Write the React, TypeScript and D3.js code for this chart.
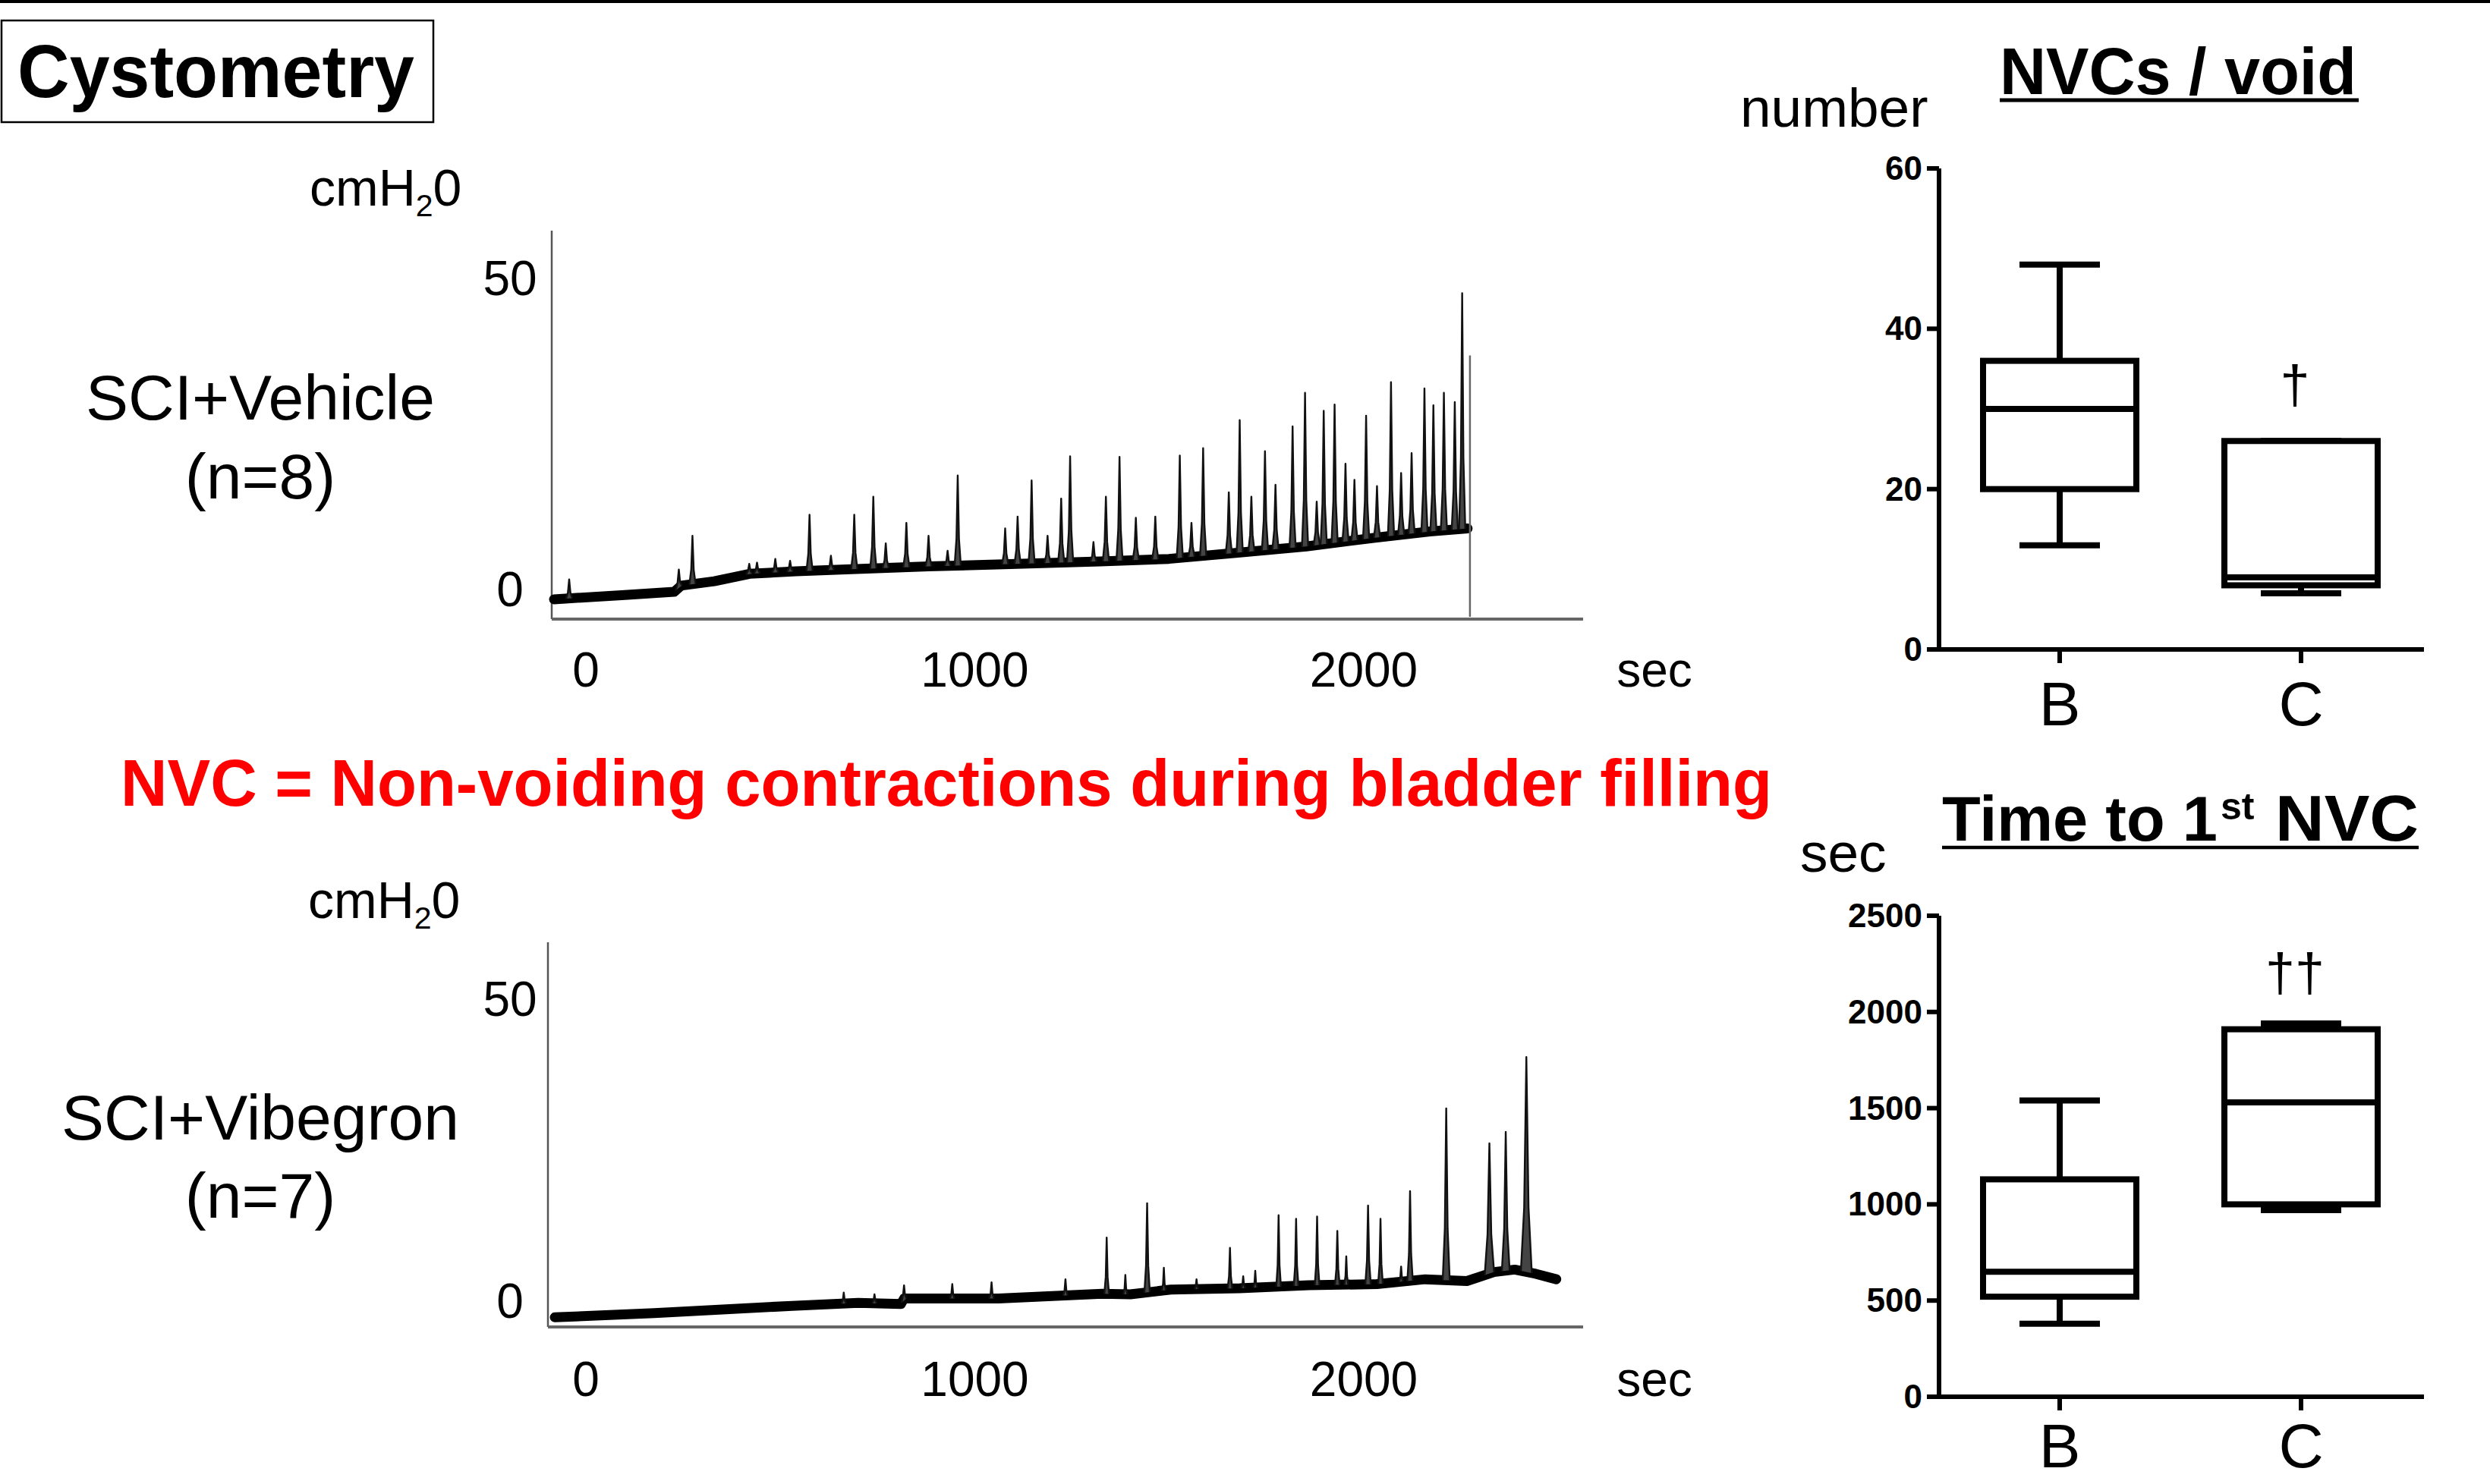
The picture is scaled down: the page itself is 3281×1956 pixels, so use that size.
import React from 'react';
import * as d3 from 'd3';

const FONT = "'Liberation Sans', Arial, Helvetica, sans-serif";

// ---------- trace data (time in sec, pressure in cmH2O) ----------
const traceTicksX = [0, 1000, 2000];
const traceTicksY = [0, 50];

const vehicleBaseline: [number, number][] = [
  [-82, -1.7], [100, -1.0], [227, -0.5], [245, 0.5], [330, 1.2], [421, 2.4], [540, 2.8],
  [669, 3.1], [881, 3.6], [1057, 3.9], [1322, 4.4], [1499, 4.8], [1676, 5.8], [1852, 6.8],
  [2029, 8.2], [2170, 9.2], [2267, 9.7],
];
const vehiclePeaks: [number, number][] = [
  [-43, 1.5], [239, 3.1], [274, 8.5], [420, 4.0], [440, 4.2], [487, 4.8], [525, 4.5], [575, 11.9],
  [630, 5.3], [690, 11.9], [739, 14.8], [771, 7.3], [824, 10.6], [881, 8.5], [930, 6.1], [956, 18.2],
  [1078, 9.7], [1110, 11.6], [1146, 17.4], [1187, 8.5], [1222, 14.5], [1245, 21.3], [1305, 7.5],
  [1337, 14.8], [1372, 21.2], [1414, 11.4], [1464, 11.6], [1527, 21.4], [1557, 10.6], [1587, 22.6],
  [1653, 15.5], [1681, 27.1], [1711, 14.8], [1746, 22.1], [1773, 16.7], [1817, 26.1], [1849, 31.5],
  [1879, 14.0], [1897, 28.6], [1925, 29.6], [1953, 20.1], [1976, 17.5], [2006, 27.8], [2034, 16.5],
  [2070, 33.2], [2096, 18.6], [2123, 21.8], [2156, 32.2], [2179, 29.5], [2206, 31.5], [2234, 30.0],
  [2253, 47.5],
];
const vehicleVoid: [number, number] = [2273, 37.5];

const vibegronBaseline: [number, number][] = [
  [-80, -2.8], [176, -2.1], [530, -0.9], [700, -0.4], [810, -0.6], [818, 0.3], [1061, 0.3],
  [1327, 1.1], [1400, 1.0], [1504, 1.8], [1681, 2.0], [1858, 2.5], [2034, 2.7], [2158, 3.5],
  [2265, 3.2], [2335, 4.7], [2388, 5.1], [2442, 4.4], [2495, 3.5],
];
// [time, peak pressure, half-duration]
const vibegronPeaks: [number, number, number][] = [
  [663, 1.3, 6], [742, 1.0, 6], [818, 2.5, 6], [942, 2.7, 6], [1043, 3.0, 6], [1233, 3.5, 6],
  [1339, 10.4, 6], [1387, 4.2, 5], [1443, 16.1, 7], [1486, 5.4, 5], [1570, 3.5, 5], [1656, 8.7, 6],
  [1690, 4.0, 5], [1721, 4.9, 5], [1781, 14.1, 6], [1826, 13.5, 6], [1880, 13.9, 6], [1932, 11.5, 6],
  [1955, 7.3, 5], [2011, 15.7, 7], [2043, 13.5, 6], [2096, 5.6, 5], [2119, 18.1, 7], [2212, 31.8, 9],
  [2323, 26.0, 12], [2365, 27.9, 10], [2418, 40.3, 14],
];
const VEHICLE_HALF_DURATION = 8;

// ---------- box plot data ----------
const boxCategories = ['B', 'C'];
const nvcMin = [13, 7];
const nvcQ1 = [20, 8];
const nvcMedian = [30, 9];
const nvcQ3 = [36, 26];
const nvcMax = [48, 26];
const nvcTicks = [0, 20, 40, 60];
const nvcMarks = ['', '†'];

const timeMin = [380, 970];
const timeQ1 = [520, 1000];
const timeMedian = [650, 1530];
const timeQ3 = [1130, 1910];
const timeMax = [1540, 1940];
const timeTicks = [0, 500, 1000, 1500, 2000, 2500];
const timeMarks = ['', '††'];

// ---------- scales ----------
const traceX = d3.scaleLinear().domain([0, 2000]).range([772, 1797]);
const vehicleY = d3.scaleLinear().domain([0, 50]).range([776, 366]);
const vibegronY = d3.scaleLinear().domain([0, 50]).range([1714, 1316]);
const boxX = d3.scalePoint<string>().domain(boxCategories).range([2555, 3191]).padding(0.5);
const nvcY = d3.scaleLinear().domain([0, 60]).range([856, 222]);
const timeY = d3.scaleLinear().domain([0, 2500]).range([1841, 1207]);

type Peak = [number, number, number?];

function Trace(props: {
  baseline: [number, number][];
  peaks: Peak[];
  halfDur: number;
  y: d3.ScaleLinear<number, number>;
  axisLeft: number;
  axisRight: number;
  axisTop: number;
  axisBottom: number;
  tickLabelX: number;
  xLabelBaseline: number;
  voidMark?: [number, number];
}) {
  const { baseline, peaks, halfDur, y, axisLeft, axisRight, axisTop, axisBottom, tickLabelX, xLabelBaseline, voidMark } = props;
  const base = d3
    .scaleLinear()
    .domain(baseline.map((d) => d[0]))
    .range(baseline.map((d) => d[1]))
    .clamp(true);
  const line = d3.line<[number, number]>().x((d) => traceX(d[0])).y((d) => y(d[1]));
  const basePath = line(baseline) || '';
  const spikes = peaks.map(([t, v, w0]) => {
    const w = w0 ?? halfDur;
    const b = base(t);
    const pts: [number, number][] = [
      [t - w, base(t - w)],
      [t - 0.4 * w, b + 0.3 * (v - b)],
      [t, v],
      [t + 0.4 * w, b + 0.3 * (v - b)],
      [t + w, base(t + w)],
    ];
    return line(pts) || '';
  });
  return (
    <g>
      <line x1={axisLeft} x2={axisLeft} y1={axisTop} y2={axisBottom} stroke="#555" strokeWidth={2.5} />
      <line x1={axisLeft} x2={axisRight} y1={axisBottom} y2={axisBottom} stroke="#666" strokeWidth={4} />
      <path d={basePath} fill="none" stroke="#000" strokeWidth={13} strokeLinejoin="round" strokeLinecap="round" />
      {spikes.map((d, i) => (
        <path key={i} d={d} fill="#444" stroke="#111" strokeWidth={2.4} strokeLinejoin="round" />
      ))}
      {voidMark && (
        <line
          x1={traceX(voidMark[0])}
          x2={traceX(voidMark[0])}
          y1={y(voidMark[1])}
          y2={axisBottom - 3}
          stroke="#666"
          strokeWidth={2.5}
        />
      )}
      {traceTicksY.map((v) => (
        <text key={v} x={tickLabelX} y={y(v) + 23} textAnchor="middle" fontSize={64} fontFamily={FONT}>
          {v}
        </text>
      ))}
      {traceTicksX.map((t) => (
        <text key={t} x={traceX(t)} y={xLabelBaseline} textAnchor="middle" fontSize={64} fontFamily={FONT}>
          {t}
        </text>
      ))}
      <text x={2180} y={xLabelBaseline} textAnchor="middle" fontSize={64} fontFamily={FONT}>
        sec
      </text>
    </g>
  );
}

function BoxPlot(props: {
  y: d3.ScaleLinear<number, number>;
  ticks: number[];
  mins: number[];
  q1s: number[];
  medians: number[];
  q3s: number[];
  maxs: number[];
  marks: string[];
  markY: number;
  labelBaseline: number;
}) {
  const { y, ticks, mins, q1s, medians, q3s, maxs, marks, markY, labelBaseline } = props;
  const x0 = 2555;
  const y0 = y(0);
  const yTop = y(ticks[ticks.length - 1]);
  const sw = 8;
  const halfBox = 101;
  const halfCap = 53;
  return (
    <g>
      <line x1={x0} x2={x0} y1={yTop} y2={y0 + 3} stroke="#000" strokeWidth={6} />
      <line x1={x0 - 3} x2={3194} y1={y0} y2={y0} stroke="#000" strokeWidth={6} />
      {ticks.map((t) => (
        <g key={t}>
          <line x1={x0 - 16} x2={x0} y1={y(t)} y2={y(t)} stroke="#000" strokeWidth={6} />
          <text x={2533} y={y(t) + 15} textAnchor="end" fontSize={44} fontWeight="bold" fontFamily={FONT}>
            {t}
          </text>
        </g>
      ))}
      {boxCategories.map((c, i) => {
        const cx = boxX(c) as number;
        return (
          <g key={c}>
            <line x1={cx} x2={cx} y1={y0} y2={y0 + 18} stroke="#000" strokeWidth={6} />
            <text x={cx} y={labelBaseline} textAnchor="middle" fontSize={82} fontFamily={FONT}>
              {c}
            </text>
            <line x1={cx} x2={cx} y1={y(maxs[i])} y2={y(q3s[i])} stroke="#000" strokeWidth={sw} />
            <line x1={cx} x2={cx} y1={y(q1s[i])} y2={y(mins[i])} stroke="#000" strokeWidth={sw} />
            <line x1={cx - halfCap} x2={cx + halfCap} y1={y(maxs[i])} y2={y(maxs[i])} stroke="#000" strokeWidth={sw} />
            <line x1={cx - halfCap} x2={cx + halfCap} y1={y(mins[i])} y2={y(mins[i])} stroke="#000" strokeWidth={sw} />
            <rect
              x={cx - halfBox}
              y={y(q3s[i])}
              width={halfBox * 2}
              height={y(q1s[i]) - y(q3s[i])}
              fill="#fff"
              stroke="#000"
              strokeWidth={sw}
            />
            <line x1={cx - halfBox} x2={cx + halfBox} y1={y(medians[i])} y2={y(medians[i])} stroke="#000" strokeWidth={sw} />
            {marks[i] && (
              <text x={cx - 8} y={markY} textAnchor="middle" fontSize={70} fontFamily={FONT}>
                {marks[i]}
              </text>
            )}
          </g>
        );
      })}
    </g>
  );
}

export default function App() {
  return (
    <svg
      width={3281}
      height={1956}
      viewBox="0 0 3281 1956"
      style={{ position: 'absolute', left: 0, top: 0, background: '#fff', display: 'block' }}
      fontFamily={FONT}
    >
      <rect x={0} y={0} width={3281} height={1956} fill="#fff" />
      <line x1={0} x2={3281} y1={2} y2={2} stroke="#000" strokeWidth={4} />

      {/* title box */}
      <rect x={2} y={27} width={569} height={134} fill="none" stroke="#000" strokeWidth={2.5} />
      <text x={23} y={128} fontSize={98} fontWeight="bold" textLength={523} lengthAdjust="spacingAndGlyphs">
        Cystometry
      </text>

      {/* group labels */}
      <text x={343} y={553} textAnchor="middle" fontSize={84}>SCI+Vehicle</text>
      <text x={343} y={657} textAnchor="middle" fontSize={84}>(n=8)</text>
      <text x={343} y={1502} textAnchor="middle" fontSize={84}>SCI+Vibegron</text>
      <text x={343} y={1605} textAnchor="middle" fontSize={84}>(n=7)</text>

      {/* unit labels */}
      <text x={408} y={271} fontSize={68}>
        cmH<tspan fontSize={41} dy={14}>2</tspan>
        <tspan dy={-14}>0</tspan>
      </text>
      <text x={406} y={1210} fontSize={68}>
        cmH<tspan fontSize={41} dy={14}>2</tspan>
        <tspan dy={-14}>0</tspan>
      </text>

      <Trace
        baseline={vehicleBaseline}
        peaks={vehiclePeaks}
        halfDur={VEHICLE_HALF_DURATION}
        y={vehicleY}
        axisLeft={727}
        axisRight={2086}
        axisTop={304}
        axisBottom={816}
        tickLabelX={672}
        xLabelBaseline={905}
        voidMark={vehicleVoid}
      />
      <Trace
        baseline={vibegronBaseline}
        peaks={vibegronPeaks}
        halfDur={6}
        y={vibegronY}
        axisLeft={722}
        axisRight={2086}
        axisTop={1242}
        axisBottom={1749}
        tickLabelX={672}
        xLabelBaseline={1840}
      />

      {/* red definition */}
      <text x={159} y={1062} fontSize={88} fontWeight="bold" fill="#ff0000" textLength={2176} lengthAdjust="spacingAndGlyphs">
        NVC = Non-voiding contractions during bladder filling
      </text>

      {/* NVCs / void */}
      <text x={2635} y={124} fontSize={87} fontWeight="bold" textLength={470} lengthAdjust="spacingAndGlyphs">
        NVCs / void
      </text>
      <line x1={2635} x2={3108} y1={132} y2={132} stroke="#000" strokeWidth={5} />
      <text x={2293} y={167} fontSize={73}>number</text>
      <BoxPlot
        y={nvcY}
        ticks={nvcTicks}
        mins={nvcMin}
        q1s={nvcQ1}
        medians={nvcMedian}
        q3s={nvcQ3}
        maxs={nvcMax}
        marks={nvcMarks}
        markY={531}
        labelBaseline={956}
      />

      {/* Time to 1st NVC */}
      <text x={2559} y={1108} fontSize={83} fontWeight="bold">Time to 1</text>
      <text x={2926} y={1080} fontSize={50} fontWeight="bold">st</text>
      <text x={2998} y={1108} fontSize={85} fontWeight="bold" textLength={189} lengthAdjust="spacingAndGlyphs">NVC</text>
      <line x1={2559} x2={3187} y1={1117} y2={1117} stroke="#000" strokeWidth={4.5} />
      <text x={2372} y={1149} fontSize={73}>sec</text>
      <BoxPlot
        y={timeY}
        ticks={timeTicks}
        mins={timeMin}
        q1s={timeQ1}
        medians={timeMedian}
        q3s={timeQ3}
        maxs={timeMax}
        marks={timeMarks}
        markY={1306}
        labelBaseline={1934}
      />
    </svg>
  );
}
